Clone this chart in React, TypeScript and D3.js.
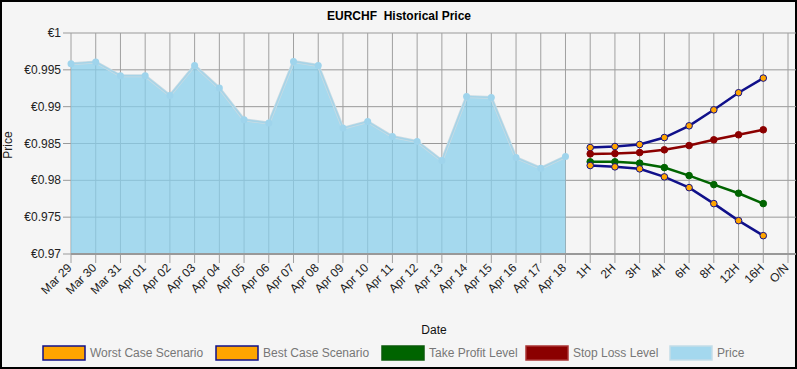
import React from 'react';
import * as d3 from 'd3';

const histDates = [
  "Mar 29", "Mar 30", "Mar 31", "Apr 01", "Apr 02", "Apr 03", "Apr 04", "Apr 05",
  "Apr 06", "Apr 07", "Apr 08", "Apr 09", "Apr 10", "Apr 11", "Apr 12", "Apr 13",
  "Apr 14", "Apr 15", "Apr 16", "Apr 17", "Apr 18"
];
const horizons = ["1H", "2H", "3H", "4H", "6H", "8H", "12H", "16H", "O/N"];

const priceValues = [
  0.99583, 0.99606, 0.9942, 0.9942, 0.99152, 0.9956, 0.99252, 0.98822,
  0.98777, 0.99614, 0.9956, 0.98709, 0.98798, 0.98594, 0.98527, 0.98268,
  0.99138, 0.99125, 0.98309, 0.98165, 0.98323
];

// forecast horizons 1H..16H
const bestCase = [0.98445, 0.98459, 0.98486, 0.98581, 0.9874, 0.98957, 0.99189, 0.99388];
const stopLoss = [0.98359, 0.98363, 0.98377, 0.98414, 0.98472, 0.9855, 0.98618, 0.98686];
const takeProfit = [0.98251, 0.98251, 0.98233, 0.98173, 0.98064, 0.97942, 0.97825, 0.97684];
const worstCase = [0.98201, 0.98183, 0.98156, 0.98047, 0.97901, 0.97684, 0.97453, 0.97249];

const yTicks = [0.97, 0.975, 0.98, 0.985, 0.99, 0.995, 1];

const W = 797;
const H = 369;
const FONT = '"Liberation Sans", Arial, sans-serif';

const NAVY = '#10108a';
const ORANGE = '#ffa500';
const GREEN = '#006400';
const RED = '#8b0000';

export default function App() {
  const x = d3.scalePoint<string>()
    .domain([...histDates, ...horizons])
    .range([71, 788]);
  const y = d3.scaleLinear().domain([0.97, 1]).range([254, 33]);

  const histPts = histDates.map((d, i) => ({ d, v: priceValues[i] }));
  const area = d3.area<{ d: string; v: number }>()
    .x(p => x(p.d)!)
    .y0(y(0.97))
    .y1(p => y(p.v));
  const priceLine = d3.line<{ d: string; v: number }>()
    .x(p => x(p.d)!)
    .y(p => y(p.v));

  const fLine = d3.line<number>()
    .x((_, i) => x(horizons[i])!)
    .y(v => y(v));

  const series = [
    { vals: bestCase, stroke: NAVY, dot: ORANGE },
    { vals: stopLoss, stroke: RED, dot: RED },
    { vals: takeProfit, stroke: GREEN, dot: GREEN },
    { vals: worstCase, stroke: NAVY, dot: ORANGE },
  ];

  const legend = [
    { label: "Worst Case Scenario", fill: ORANGE, stroke: NAVY, x: 43 },
    { label: "Best Case Scenario", fill: ORANGE, stroke: NAVY, x: 216 },
    { label: "Take Profit Level", fill: GREEN, stroke: '#0a5a0a', x: 382 },
    { label: "Stop Loss Level", fill: RED, stroke: '#a33', x: 526 },
    { label: "Price", fill: '#a4d8ee', stroke: '#c4dde8', x: 670 },
  ];

  return (
    <svg width={W} height={H} style={{ position: 'absolute', left: 0, top: 0 }} fontFamily={FONT}>
      <rect x={0} y={0} width={W} height={H} fill="#f5f5f5" />
      <rect x={1} y={1} width={W - 2} height={H - 2} fill="none" stroke="#000" strokeWidth={2} />

      <text x={399} y={20} textAnchor="middle" fontSize={12} fontWeight="bold" fill="#000"
        style={{ whiteSpace: 'pre' }}>
        {"EURCHF  Historical Price"}
      </text>

      {/* grid */}
      {yTicks.map(t => (
        <g key={t}>
          <line x1={63} x2={796} y1={y(t)} y2={y(t)} stroke="#999" strokeWidth={1} />
          <text x={61} y={y(t) + 4} textAnchor="end" fontSize={12} fill="#222">
            {`€${+t.toFixed(3)}`}
          </text>
        </g>
      ))}
      {x.domain().map(c => (
        <line key={c} x1={x(c)} x2={x(c)} y1={y(1)} y2={263} stroke="#a0a0a0" strokeWidth={1} />
      ))}

      {/* price area */}
      <path d={area(histPts)!} fill="#87ceeb" fillOpacity={0.72} />
      <path d={priceLine(histPts)!} fill="none" stroke="#c9dbe3" strokeWidth={3} />
      <path d={priceLine(histPts)!} fill="none" stroke="#a6d4e8" strokeWidth={1.5} />
      {histPts.map(p => (
        <circle key={p.d} cx={x(p.d)} cy={y(p.v)} r={3.5} fill="#9fd4ec" />
      ))}

      <line x1={71} x2={796} y1={y(0.97)} y2={y(0.97)} stroke="#999" strokeWidth={2} />

      {/* forecasts */}
      {series.map((s, k) => (
        <g key={k}>
          <path d={fLine(s.vals)!} fill="none" stroke={s.stroke} strokeWidth={2.5} />
          {s.vals.map((v, i) => (
            <circle key={i} cx={x(horizons[i])} cy={y(v)} r={3.3} fill={s.dot}
              stroke={s.stroke} strokeWidth={1} />
          ))}
        </g>
      ))}

      {/* x labels */}
      {x.domain().map(c => (
        <text key={c} transform={`translate(${x(c)! + 1.5},${268.5}) rotate(-45)`}
          textAnchor="end" fontSize={12} fill="#222">{c}</text>
      ))}

      <text transform={`translate(12,145) rotate(-90)`} textAnchor="middle" fontSize={12} fill="#222">Price</text>
      <text x={434} y={334} textAnchor="middle" fontSize={12} fill="#111">Date</text>

      {legend.map(l => (
        <g key={l.label}>
          <rect x={l.x} y={346} width={42} height={14} fill={l.fill} stroke={l.stroke} strokeWidth={1.5} />
          <text x={l.x + 47} y={357} fontSize={12} fill="#777">{l.label}</text>
        </g>
      ))}
    </svg>
  );
}
